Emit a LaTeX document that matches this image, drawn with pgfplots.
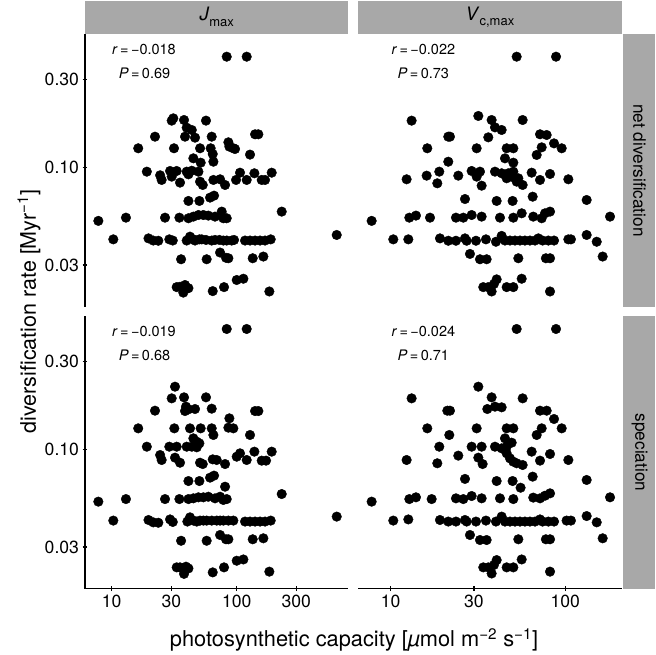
\documentclass[border=0pt]{standalone}
\usepackage{fontspec}
\setmainfont{TeX Gyre Heros}
\usepackage{pgfplots}
\usepackage{pgfplotstable}
\pgfplotsset{compat=1.18}
\definecolor{stripgrey}{RGB}{168,168,168}

\pgfplotstableread{
x y
83.2 0.396
120.2 0.396
31.1 0.1845
30.2 0.1793
37.9 0.1807
56.8 0.1793
39.8 0.1643
43.7 0.1597
22.2 0.147
38.6 0.147
46.4 0.1452
63.1 0.147
140.2 0.1514
149.0 0.1514
85.8 0.1371
16.3 0.1273
31.5 0.1273
50.9 0.1273
61.9 0.1273
87.4 0.1299
94.0 0.1273
97.0 0.1262
64.3 0.1186
127.8 0.1177
45.0 0.1124
51.5 0.1065
65.1 0.1078
19.1 0.0953
29.3 0.0961
33.1 0.0961
39.8 0.0953
43.7 0.0964
49.4 0.0953
106.3 0.0941
138.5 0.0934
190.5 0.0941
24.4 0.0911
25.1 0.0860
30.2 0.0896
35.2 0.0832
41.1 0.0922
50.9 0.0842
53.5 0.0808
65.1 0.0860
73.6 0.0867
80.7 0.0808
98.8 0.0860
120.2 0.0860
158.5 0.0860
168.5 0.0860
41.1 0.0663
50.3 0.0663
61.2 0.0691
65.9 0.0708
229.1 0.0581
26.7 0.0539
34.8 0.0539
41.1 0.0535
45.0 0.0546
49.4 0.0557
54.1 0.0557
59.3 0.0553
67.1 0.0546
75.9 0.0581
78.2 0.0535
83.2 0.0535
7.82 0.0518
13.0 0.0539
631 0.0435
10.3 0.0412
19.7 0.0417
21.5 0.0406
23.6 0.0405
28.9 0.0412
30.8 0.0406
39.8 0.0406
42.3 0.0426
45.0 0.0412
46.4 0.0406
50.3 0.0412
52.5 0.0412
56.8 0.0409
63.1 0.0406
67.1 0.0409
72.7 0.0409
78.2 0.0406
83.2 0.0406
91.2 0.0406
95.2 0.0409
116.6 0.0406
127.8 0.0406
140.2 0.0406
153.7 0.0406
168.5 0.0406
187.1 0.0412
35.9 0.0322
57.5 0.0322
73.6 0.035
82.1 0.0328
85.8 0.0326
134.3 0.0326
163.4 0.0333
100 0.0249
113.1 0.0253
33.1 0.0228
35.2 0.0229
37.0 0.0225
38.6 0.0234
41.1 0.0225
37.4 0.0213
64.3 0.0217
79.2 0.0228
182.5 0.0216
}\tlnet

\pgfplotstableread{
x y
83.2 0.4465
120.2 0.4465
32.1 0.2185
30.2 0.1891
37.9 0.1915
56.8 0.1915
39.3 0.1706
41.1 0.165
46.4 0.1657
22.2 0.1623
38.6 0.1616
63.1 0.1664
140.2 0.1616
149.0 0.1616
87.4 0.1476
16.3 0.1304
31.7 0.1304
42.3 0.1304
51.5 0.1304
63.1 0.1304
85.8 0.1315
94.0 0.1304
65.1 0.1201
127.8 0.1201
45.0 0.1152
47.9 0.1105
50.3 0.1083
19.1 0.1039
28.9 0.1039
33.1 0.1039
39.8 0.1039
43.7 0.1039
47.9 0.1031
24.4 0.0937
25.1 0.0881
32.1 0.0907
35.2 0.0852
50.9 0.0852
53.5 0.0838
64.3 0.0888
69.2 0.0881
80.7 0.0838
100 0.0918
106.3 0.0957
120.2 0.0881
138.5 0.0977
158.5 0.0874
171.7 0.0874
190.5 0.0977
41.1 0.0679
50.3 0.0679
61.2 0.0708
65.9 0.0726
80.7 0.0633
229.1 0.0578
7.82 0.0526
13.0 0.0543
26.7 0.0543
34.8 0.0543
41.1 0.0543
45.0 0.0548
49.4 0.0555
54.1 0.0555
59.3 0.0559
67.1 0.0548
73.6 0.0559
78.2 0.0537
83.2 0.0543
631 0.0437
10.3 0.0416
19.7 0.0419
21.5 0.0407
23.6 0.0405
29.3 0.0422
30.8 0.0409
40.3 0.0411
42.3 0.0433
45.0 0.0416
47.9 0.0411
50.9 0.0416
54.1 0.0416
57.5 0.0416
63.1 0.0416
69.2 0.0416
73.6 0.0416
78.2 0.0416
85.8 0.0416
94.0 0.0416
116.6 0.0411
127.8 0.0411
140.2 0.0411
153.7 0.0411
168.5 0.0411
187.1 0.0416
35.9 0.0324
57.5 0.0324
73.6 0.0348
82.1 0.033
85.8 0.033
134.3 0.033
163.4 0.0334
100 0.0253
113.1 0.0257
33.1 0.0233
35.2 0.0233
37.4 0.023
39.3 0.0235
41.1 0.023
37.9 0.0215
64.3 0.0219
79.2 0.0233
182.5 0.0221
}\blspec

\pgfplotstableread{
x y
52.70 0.396
88.58 0.396
13.18 0.1793
31.78 0.190
37.88 0.1807
57.03 0.1807
39.59 0.165
43.23 0.1597
21.38 0.147
21.86 0.147
36.25 0.1458
71.72 0.1514
78.31 0.1501
86.28 0.1353
95.45 0.1273
16.21 0.1273
31.09 0.1273
46.18 0.1273
50.43 0.1273
73.31 0.1288
68.63 0.1172
45.17 0.1124
50.43 0.1065
21.38 0.1078
12.34 0.0867
16.07 0.0907
18.50 0.0825
18.99 0.0953
24.40 0.0907
29.10 0.0961
32.48 0.0953
31.09 0.0896
33.20 0.0801
39.59 0.0953
43.23 0.0934
46.18 0.0878
47.21 0.0934
50.43 0.0953
49.33 0.0896
52.70 0.0842
53.87 0.0878
57.03 0.0808
64.23 0.0941
71.72 0.0860
81.84 0.0926
104.2 0.0867
26.65 0.0679
40.47 0.0663
49.94 0.0663
65.09 0.0699
132.7 0.0671
7.78 0.0518
12.79 0.0539
13.96 0.0553
16.80 0.0539
23.66 0.0539
26.07 0.0539
29.10 0.0557
33.20 0.0546
42.29 0.0539
50.43 0.0539
56.30 0.0569
65.6 0.0546
73.31 0.0535
76.60 0.0569
81.84 0.0581
180.6 0.0546
10.35 0.0412
12.62 0.0412
19.16 0.0417
21.38 0.0405
23.66 0.0405
26.65 0.0417
27.24 0.0405
30.81 0.0405
35.14 0.0412
40.10 0.0400
43.23 0.0430
45.17 0.0406
48.26 0.0406
51.55 0.0406
55.07 0.0406
58.78 0.0406
62.8 0.0406
67.13 0.0406
70.15 0.0417
74.2 0.0406
80.06 0.0406
86.28 0.0406
104.2 0.0412
107.8 0.0412
132.7 0.0435
151.5 0.0400
163.9 0.0333
28.46 0.0344
32.48 0.0322
35.46 0.0322
53.87 0.0326
77.5 0.0326
81.84 0.0326
33.93 0.0228
36.25 0.0228
37.88 0.0216
39.05 0.0237
40.47 0.0251
46.18 0.0228
50.43 0.0228
56.30 0.0253
81.84 0.0216
}\trnet

\pgfplotstableread{
x y
52.70 0.4465
88.58 0.4465
31.78 0.2185
13.18 0.1891
37.88 0.1915
57.03 0.1891
39.59 0.1706
35.78 0.1657
43.23 0.1692
21.11 0.1623
21.86 0.1623
71.72 0.1623
78.31 0.1623
86.28 0.1464
16.21 0.1304
31.09 0.1304
46.18 0.1304
50.43 0.1304
73.31 0.1304
95.45 0.1304
21.67 0.1201
68.63 0.1201
45.17 0.1152
49.33 0.1092
46.18 0.1039
18.99 0.1039
29.10 0.1039
33.20 0.1039
39.59 0.1039
43.23 0.1018
12.34 0.0881
18.50 0.0846
24.40 0.093
31.78 0.0907
33.64 0.0838
46.18 0.0957
48.26 0.0899
50.43 0.0863
52.70 0.0846
57.03 0.0828
64.23 0.0977
71.72 0.0874
81.84 0.0949
104.2 0.0881
26.65 0.0697
40.47 0.0679
49.94 0.0679
55.5 0.0625
65.09 0.0717
132.7 0.0688
7.78 0.0526
12.79 0.0543
13.96 0.0555
17.17 0.0543
23.66 0.0548
26.07 0.0543
29.10 0.0564
33.20 0.0548
42.29 0.0548
50.43 0.0543
65.6 0.0553
71.72 0.0548
76.60 0.0566
81.84 0.0583
180.6 0.0555
10.35 0.0416
12.62 0.0422
19.16 0.0419
21.38 0.0411
23.66 0.0411
26.65 0.0419
27.24 0.0411
30.81 0.0411
35.14 0.0416
40.10 0.0411
43.23 0.0437
45.17 0.0411
48.26 0.0411
51.55 0.0411
55.07 0.0411
58.78 0.0411
62.8 0.0411
67.13 0.0411
71.72 0.0422
74.2 0.0411
80.06 0.0411
86.28 0.0411
101.8 0.0416
107.8 0.0416
132.7 0.044
151.5 0.0407
163.9 0.0334
28.46 0.0348
32.48 0.0327
35.46 0.0327
53.87 0.033
77.5 0.033
81.84 0.033
33.93 0.0233
36.25 0.0233
37.88 0.0216
39.05 0.024
40.47 0.0255
46.18 0.0233
50.43 0.0233
56.30 0.0257
81.84 0.0221
}\brspec

\pgfplotsset{
  facetpanel/.style={
    scale only axis, width=263.3pt, height=272.4pt,
    ymin=0.01789, ymax=0.5225,
    enlargelimits=false, tick align=outside, major tick length=5pt,
    axis line style={line width=1.1pt},
    tick style={line width=1.1pt, black},
    ticklabel style={font=\fontsize{17.6}{17.6}\selectfont, text=black},
    ytick={0.03,0.1,0.3}, yticklabels={0.03,0.10,0.30},
    clip=false,
  },
  facetleftx/.style={xmin=6.115, xmax=781.3, xtick={10,30,100,300}, xticklabels={10,30,100,300}},
  facetrightx/.style={xmin=6.524, xmax=210.4, xtick={10,30,100}, xticklabels={10,30,100}},
  facetpts/.style={only marks, mark=*, mark size=4.8pt, mark options={fill=black, draw=black, line width=0.4pt}},
}
\tikzset{annot/.style={font=\fontsize{14.5}{14.5}\selectfont}}

\begin{document}
\begin{tikzpicture}
\path (0pt,0pt) rectangle (656pt,653pt);
\fill[stripgrey] (85pt,618.7pt) rectangle (348.3pt,652pt);
\fill[stripgrey] (358.3pt,618.7pt) rectangle (621.7pt,652pt);
\fill[stripgrey] (623.3pt,346.3pt) rectangle (655pt,618.7pt);
\fill[stripgrey] (623.3pt,64.3pt) rectangle (655pt,336.7pt);
\node[font=\fontsize{18.5}{18.5}\selectfont] at (216.7pt,636pt) {\textit{J}\raisebox{-0.3em}{\fontsize{13}{13}\selectfont max}};
\node[font=\fontsize{18.5}{18.5}\selectfont] at (490pt,636pt) {\textit{V}\raisebox{-0.3em}{\fontsize{13}{13}\selectfont c,max}};
\node[font=\fontsize{17.2}{17.2}\selectfont, rotate=-90] at (639.6pt,482.5pt) {net diversification};
\node[font=\fontsize{17.2}{17.2}\selectfont, rotate=-90] at (639.6pt,200.5pt) {speciation};
\node[font=\fontsize{21.5}{21.5}\selectfont, rotate=90] at (29pt,341.5pt) {diversification rate [Myr\textsuperscript{−1}]};
\node[font=\fontsize{21.8}{21.8}\selectfont] at (354pt,13pt) {photosynthetic capacity [\textit{µ}mol m\textsuperscript{−2} s\textsuperscript{−1}]};

\begin{axis}[xmode=log, ymode=log, facetpanel, facetleftx, at={(85pt,346.3pt)}, anchor=south west,
  axis y line=left, axis x line=none, xtick=\empty, axis line style={-}]
\addplot[facetpts] table {\tlnet};
\node[annot] at (rel axis cs:0.224,0.945) {\textit{r}\,=\,−0.018};
\node[annot] at (rel axis cs:0.226,0.857) {\textit{P}\,=\,0.69};
\end{axis}

\begin{axis}[xmode=log, ymode=log, facetpanel, facetrightx, at={(358.3pt,346.3pt)}, anchor=south west,
  axis y line=none, axis x line=none, xtick=\empty, ytick=\empty]
\addplot[facetpts] table {\trnet};
\node[annot] at (rel axis cs:0.247,0.945) {\textit{r}\,=\,−0.022};
\node[annot] at (rel axis cs:0.247,0.857) {\textit{P}\,=\,0.73};
\end{axis}

\begin{axis}[xmode=log, ymode=log, facetpanel, facetleftx, at={(85pt,64.3pt)}, anchor=south west,
  axis y line=left, axis x line=bottom, axis line style={-}]
\addplot[facetpts] table {\blspec};
\node[annot] at (rel axis cs:0.224,0.945) {\textit{r}\,=\,−0.019};
\node[annot] at (rel axis cs:0.226,0.857) {\textit{P}\,=\,0.68};
\end{axis}

\begin{axis}[xmode=log, ymode=log, facetpanel, facetrightx, at={(358.3pt,64.3pt)}, anchor=south west,
  axis y line=none, axis x line=bottom, ytick=\empty, axis line style={-}]
\addplot[facetpts] table {\brspec};
\node[annot] at (rel axis cs:0.247,0.945) {\textit{r}\,=\,−0.024};
\node[annot] at (rel axis cs:0.247,0.857) {\textit{P}\,=\,0.71};
\end{axis}
\end{tikzpicture}
\end{document}
